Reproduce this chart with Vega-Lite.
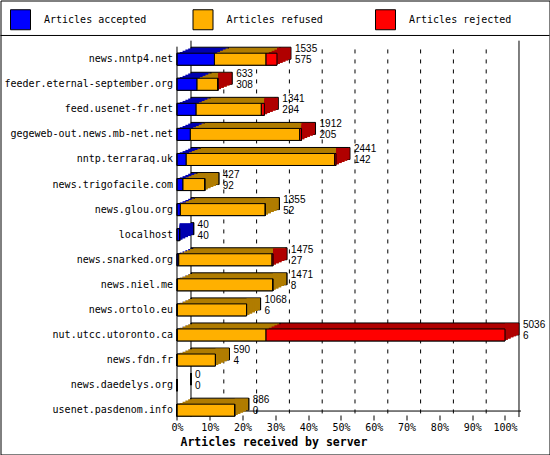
{
  "$schema": "https://vega.github.io/schema/vega-lite/v6.json",
  "width": 549,
  "height": 454,
  "autosize": "none",
  "padding": {"left": 0.5, "top": 0.5, "right": 0.5, "bottom": 0.5},
  "background": "white",
  "config": {
    "view": {"stroke": "black", "strokeWidth": 1},
    "font": "DejaVu Sans Mono"
  },
  "datasets": {
    "hosts": [
      {"host": "news.nntp4.net", "total": 1535, "accepted": 575, "refused": 792, "rejected": 168},
      {"host": "feeder.eternal-september.org", "total": 633, "accepted": 308, "refused": 316, "rejected": 9},
      {"host": "feed.usenet-fr.net", "total": 1341, "accepted": 294, "refused": 1001, "rejected": 46},
      {"host": "gegeweb-out.news.mb-net.net", "total": 1912, "accepted": 205, "refused": 1679, "rejected": 28},
      {"host": "nntp.terraraq.uk", "total": 2441, "accepted": 142, "refused": 2279, "rejected": 20},
      {"host": "news.trigofacile.com", "total": 427, "accepted": 92, "refused": 335, "rejected": 0},
      {"host": "news.glou.org", "total": 1355, "accepted": 52, "refused": 1303, "rejected": 0},
      {"host": "localhost", "total": 40, "accepted": 40, "refused": 0, "rejected": 0},
      {"host": "news.snarked.org", "total": 1475, "accepted": 27, "refused": 1432, "rejected": 16},
      {"host": "news.niel.me", "total": 1471, "accepted": 8, "refused": 1463, "rejected": 0},
      {"host": "news.ortolo.eu", "total": 1068, "accepted": 6, "refused": 1062, "rejected": 0},
      {"host": "nut.utcc.utoronto.ca", "total": 5036, "accepted": 6, "refused": 1361, "rejected": 3669},
      {"host": "news.fdn.fr", "total": 590, "accepted": 4, "refused": 586, "rejected": 0},
      {"host": "news.daedelys.org", "total": 0, "accepted": 0, "refused": 0, "rejected": 0},
      {"host": "usenet.pasdenom.info", "total": 886, "accepted": 0, "refused": 886, "rejected": 0}
    ],
    "grid": [
      {"g": 503.6}, {"g": 1007.2}, {"g": 1510.8}, {"g": 2014.4}, {"g": 2518},
      {"g": 3021.6}, {"g": 3525.2}, {"g": 4028.8}, {"g": 4532.4}
    ]
  },
  "layer": [
    {
      "data": {"name": "hosts"},
      "transform": [{"fold": ["accepted", "refused", "rejected"], "as": ["key", "value"]}],
      "mark": {"type": "bar", "height": 12, "stroke": "black", "strokeWidth": 1, "opacity": 1},
      "encoding": {
        "y": {
          "field": "host", "type": "nominal", "sort": null,
          "scale": {
            "type": "band",
            "domain": ["news.nntp4.net", "feeder.eternal-september.org", "feed.usenet-fr.net", "gegeweb-out.news.mb-net.net", "nntp.terraraq.uk", "news.trigofacile.com", "news.glou.org", "localhost", "news.snarked.org", "news.niel.me", "news.ortolo.eu", "nut.utcc.utoronto.ca", "news.fdn.fr", "news.daedelys.org", "usenet.pasdenom.info"],
            "range": [46.17, 422.2],
            "paddingInner": 0, "paddingOuter": 0
          },
          "axis": {
            "offset": -176.5, "domain": false, "ticks": false, "grid": false,
            "labelFont": "DejaVu Sans Mono", "labelFontSize": 10, "labelColor": "black",
            "labelPadding": 4.5, "labelLimit": 400, "title": null
          }
        },
        "x": {
          "field": "value", "type": "quantitative", "stack": "zero",
          "scale": {"domain": [-2709.9, 5719.3], "nice": false, "zero": false},
          "axis": {
            "values": [0, 503.6, 1007.2, 1510.8, 2014.4, 2518, 3021.6, 3525.2, 4028.8, 4532.4, 5036],
            "labelExpr": "format(datum.value / 5036, '.0%')",
            "offset": -39.5, "domain": false, "grid": false,
            "ticks": true, "tickSize": 5, "tickColor": "black", "tickWidth": 1,
            "labelFont": "DejaVu Sans Mono", "labelFontSize": 10, "labelColor": "black",
            "labelPadding": 2, "labelFlush": false, "labelOverlap": false,
            "title": "Articles received by server",
            "titleFont": "DejaVu Sans Mono", "titleFontWeight": "bold", "titleFontSize": 11.5,
            "titleColor": "black", "titleX": 179.5, "titleY": 27, "titleAlign": "left",
            "titleBaseline": "middle"
          }
        },
        "color": {
          "field": "key", "type": "nominal",
          "scale": {"domain": ["accepted", "refused", "rejected"], "range": ["#0000FF", "#FFB000", "#FF0000"]},
          "legend": {
            "orient": "none", "legendX": 9.5, "legendY": 8.5,
            "direction": "horizontal", "columns": 3, "gridAlign": "all", "columnPadding": 43.5,
            "symbolType": "square", "symbolSize": 400, "symbolStrokeColor": "black",
            "symbolStrokeWidth": 1, "symbolOpacity": 1,
            "labelExpr": "'Articles ' + datum.label",
            "labelFont": "DejaVu Sans Mono", "labelFontSize": 10, "labelColor": "black",
            "labelOffset": 13, "title": null, "padding": 0
          }
        },
        "order": {"field": "key", "sort": "ascending"}
      }
    },
    {
      "data": {"values": [{}]},
      "mark": {"type": "rule", "color": "black", "strokeWidth": 1, "yOffset": -11.2},
      "encoding": {
        "y": {"datum": "news.nntp4.net", "type": "nominal", "bandPosition": 0}
      }
    },
    {
      "data": {"values": [{}]},
      "mark": {"type": "rule", "color": "black", "strokeWidth": 1, "xOffset": 14, "yOffset": -6},
      "encoding": {
        "x": {"datum": 0, "type": "quantitative"},
        "y": {"datum": "news.nntp4.net", "type": "nominal", "bandPosition": 0},
        "y2": {"datum": "usenet.pasdenom.info", "bandPosition": 0.774}
      }
    },
    {
      "data": {"values": [{}]},
      "mark": {"type": "rule", "color": "black", "strokeWidth": 1, "xOffset": 14, "yOffset": -6},
      "encoding": {
        "x": {"datum": 5036, "type": "quantitative"},
        "y": {"datum": "news.nntp4.net", "type": "nominal", "bandPosition": 0},
        "y2": {"datum": "usenet.pasdenom.info", "bandPosition": 0.774}
      }
    },
    {
      "data": {"name": "grid"},
      "mark": {"type": "rule", "color": "black", "strokeWidth": 1, "strokeDash": [4, 6], "xOffset": 14, "yOffset": -6},
      "encoding": {
        "x": {"field": "g", "type": "quantitative"},
        "y": {"datum": "news.nntp4.net", "type": "nominal", "bandPosition": 0.35},
        "y2": {"datum": "usenet.pasdenom.info", "bandPosition": 0.774}
      }
    },
    {
      "data": {"values": [{}]},
      "mark": {"type": "rule", "color": "black", "strokeWidth": 1, "xOffset": 14, "yOffset": -6},
      "encoding": {
        "x": {"datum": 0, "type": "quantitative"},
        "x2": {"datum": 5282},
        "y": {"datum": "usenet.pasdenom.info", "type": "nominal", "bandPosition": 0.774}
      }
    },
    {
      "data": {"name": "hosts"},
      "transform": [{"fold": ["accepted", "refused", "rejected"], "as": ["kind", "amount"]}],
      "mark": {"type": "bar", "height": 12, "stroke": "black", "strokeWidth": 1, "xOffset": 14, "yOffset": -6},
      "encoding": {
        "y": {"field": "host", "type": "nominal", "sort": null},
        "x": {"field": "amount", "type": "quantitative", "stack": "zero"},
        "fill": {
          "field": "kind", "type": "nominal",
          "scale": {"domain": ["accepted", "refused", "rejected"], "range": ["#0000B0", "#B07C00", "#B00000"]},
          "legend": null
        },
        "order": {"field": "kind", "sort": "ascending"}
      }
    },
    {
      "data": {"name": "hosts"},
      "transform": [{"fold": ["accepted", "refused", "rejected"], "as": ["kind", "amount"]}],
      "mark": {"type": "bar", "height": 12, "strokeWidth": 0, "xOffset": 11.2, "yOffset": -4.8},
      "encoding": {
        "y": {"field": "host", "type": "nominal", "sort": null},
        "x": {"field": "amount", "type": "quantitative", "stack": "zero"},
        "fill": {"field": "kind", "type": "nominal", "legend": null},
        "order": {"field": "kind", "sort": "ascending"}
      }
    },
    {
      "data": {"name": "hosts"},
      "transform": [{"fold": ["accepted", "refused", "rejected"], "as": ["kind", "amount"]}],
      "mark": {"type": "bar", "height": 12, "strokeWidth": 0, "xOffset": 8.4, "yOffset": -3.6},
      "encoding": {
        "y": {"field": "host", "type": "nominal", "sort": null},
        "x": {"field": "amount", "type": "quantitative", "stack": "zero"},
        "fill": {"field": "kind", "type": "nominal", "legend": null},
        "order": {"field": "kind", "sort": "ascending"}
      }
    },
    {
      "data": {"name": "hosts"},
      "transform": [{"fold": ["accepted", "refused", "rejected"], "as": ["kind", "amount"]}],
      "mark": {"type": "bar", "height": 12, "strokeWidth": 0, "xOffset": 5.6, "yOffset": -2.4},
      "encoding": {
        "y": {"field": "host", "type": "nominal", "sort": null},
        "x": {"field": "amount", "type": "quantitative", "stack": "zero"},
        "fill": {"field": "kind", "type": "nominal", "legend": null},
        "order": {"field": "kind", "sort": "ascending"}
      }
    },
    {
      "data": {"name": "hosts"},
      "transform": [{"fold": ["accepted", "refused", "rejected"], "as": ["kind", "amount"]}],
      "mark": {"type": "bar", "height": 12, "strokeWidth": 0, "xOffset": 2.8, "yOffset": -1.2},
      "encoding": {
        "y": {"field": "host", "type": "nominal", "sort": null},
        "x": {"field": "amount", "type": "quantitative", "stack": "zero"},
        "fill": {"field": "kind", "type": "nominal", "legend": null},
        "order": {"field": "kind", "sort": "ascending"}
      }
    },
    {
      "data": {"name": "hosts"},
      "transform": [
        {"filter": "datum.total > 0"},
        {"calculate": "datum.rejected > 0 ? 'rejected' : (datum.refused > 0 ? 'refused' : 'accepted')", "as": "kind"}
      ],
      "mark": {"type": "bar", "height": 11.5, "strokeWidth": 0, "x2Offset": 13.5, "yOffset": -5.75},
      "encoding": {
        "y": {"field": "host", "type": "nominal", "sort": null},
        "x": {"field": "total", "type": "quantitative"},
        "x2": {"field": "total"},
        "fill": {"field": "kind", "type": "nominal", "legend": null}
      }
    },
    {
      "data": {"name": "hosts"},
      "transform": [
        {"filter": "datum.total > 0"},
        {"calculate": "datum.rejected > 0 ? 'rejected' : (datum.refused > 0 ? 'refused' : 'accepted')", "as": "kind"}
      ],
      "mark": {"type": "bar", "height": 12, "strokeWidth": 0, "x2Offset": 11.2, "yOffset": -4.8},
      "encoding": {
        "y": {"field": "host", "type": "nominal", "sort": null},
        "x": {"field": "total", "type": "quantitative"},
        "x2": {"field": "total"},
        "fill": {"field": "kind", "type": "nominal", "legend": null}
      }
    },
    {
      "data": {"name": "hosts"},
      "transform": [
        {"filter": "datum.total > 0"},
        {"calculate": "datum.rejected > 0 ? 'rejected' : (datum.refused > 0 ? 'refused' : 'accepted')", "as": "kind"}
      ],
      "mark": {"type": "bar", "height": 12, "strokeWidth": 0, "x2Offset": 8.4, "yOffset": -3.6},
      "encoding": {
        "y": {"field": "host", "type": "nominal", "sort": null},
        "x": {"field": "total", "type": "quantitative"},
        "x2": {"field": "total"},
        "fill": {"field": "kind", "type": "nominal", "legend": null}
      }
    },
    {
      "data": {"name": "hosts"},
      "transform": [
        {"filter": "datum.total > 0"},
        {"calculate": "datum.rejected > 0 ? 'rejected' : (datum.refused > 0 ? 'refused' : 'accepted')", "as": "kind"}
      ],
      "mark": {"type": "bar", "height": 12, "strokeWidth": 0, "x2Offset": 5.6, "yOffset": -2.4},
      "encoding": {
        "y": {"field": "host", "type": "nominal", "sort": null},
        "x": {"field": "total", "type": "quantitative"},
        "x2": {"field": "total"},
        "fill": {"field": "kind", "type": "nominal", "legend": null}
      }
    },
    {
      "data": {"name": "hosts"},
      "transform": [
        {"filter": "datum.total > 0"},
        {"calculate": "datum.rejected > 0 ? 'rejected' : (datum.refused > 0 ? 'refused' : 'accepted')", "as": "kind"}
      ],
      "mark": {"type": "bar", "height": 12, "strokeWidth": 0, "x2Offset": 2.8, "yOffset": -1.2},
      "encoding": {
        "y": {"field": "host", "type": "nominal", "sort": null},
        "x": {"field": "total", "type": "quantitative"},
        "x2": {"field": "total"},
        "fill": {"field": "kind", "type": "nominal", "legend": null}
      }
    },
    {
      "data": {"name": "hosts"},
      "transform": [{"fold": ["accepted", "refused", "rejected"], "as": ["key", "value"]}],
      "mark": {"type": "bar", "height": 12, "stroke": "black", "strokeWidth": 1, "opacity": 1},
      "encoding": {
        "y": {"field": "host", "type": "nominal", "sort": null},
        "x": {"field": "value", "type": "quantitative", "stack": "zero"},
        "color": {"field": "key", "type": "nominal"},
        "order": {"field": "key", "sort": "ascending"}
      }
    },
    {
      "data": {"values": [{}]},
      "mark": {"type": "rule", "color": "black", "strokeWidth": 1},
      "encoding": {
        "x": {"datum": 0, "type": "quantitative"},
        "y": {"datum": "news.nntp4.net", "type": "nominal", "bandPosition": 0},
        "y2": {"datum": "usenet.pasdenom.info", "bandPosition": 0.774}
      }
    },
    {
      "data": {"name": "hosts"},
      "mark": {"type": "text", "align": "left", "baseline": "middle", "dx": 18, "dy": -10, "font": "Liberation Sans", "fontSize": 10, "color": "black"},
      "encoding": {
        "y": {"field": "host", "type": "nominal", "sort": null},
        "x": {"field": "total", "type": "quantitative"},
        "text": {"field": "total", "type": "quantitative", "format": "d"}
      }
    },
    {
      "data": {"name": "hosts"},
      "mark": {"type": "text", "align": "left", "baseline": "middle", "dx": 18, "dy": 1, "font": "Liberation Sans", "fontSize": 10, "color": "black"},
      "encoding": {
        "y": {"field": "host", "type": "nominal", "sort": null},
        "x": {"field": "total", "type": "quantitative"},
        "text": {"field": "accepted", "type": "quantitative", "format": "d"}
      }
    }
  ]
}
